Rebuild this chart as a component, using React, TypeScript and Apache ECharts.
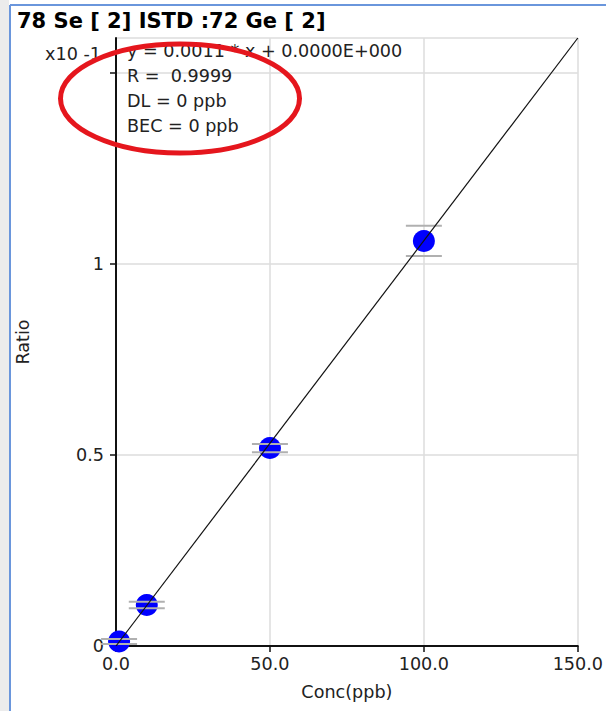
import React, { useEffect, useRef } from "react";
import * as echarts from "echarts";

const conc = [1, 10, 50, 100];
const ratio = [0.012, 0.107, 0.518, 1.059];
const errLow = [0.005, 0.099, 0.507, 1.02];
const errHigh = [0.018, 0.116, 0.528, 1.099];
const fitX = [0, 150];
const fitY = [0, 1.59];
const xTicks = [0, 50, 100, 150];
const yLabeled = [0, 0.5, 1];
const title = "78 Se [ 2] ISTD :72 Ge [ 2]";
const infoLines = ["y = 0.0011 * x + 0.0000E+000", "R =  0.9999", "DL = 0 ppb", "BEC = 0 ppb"];
const yUnit = "x10 -1";

const FONT = "DejaVu Sans";
const FS = 17.6;

export default function App() {
  const ref = useRef<HTMLDivElement>(null);
  useEffect(() => {
    if (!ref.current) return;
    const chart = echarts.init(ref.current, null, { renderer: "svg" });
    const points = conc.map((c, i) => [c, ratio[i]]);
    const errs = conc.map((c, i) => [c, errLow[i], errHigh[i]]);
    const fit = fitX.map((x, i) => [x, fitY[i]]);
    chart.setOption({
      animation: false,
      backgroundColor: "#ffffff",
      textStyle: { fontFamily: FONT },
      grid: { left: 116, right: 24, top: 38, bottom: 65, containLabel: false },
      xAxis: {
        type: "value",
        min: 0,
        max: 150,
        interval: 50,
        name: "Conc(ppb)",
        nameLocation: "middle",
        nameGap: 37,
        nameTextStyle: { fontFamily: FONT, fontSize: FS, color: "#222" },
        axisLine: { onZero: false, lineStyle: { color: "#111", width: 2 } },
        axisTick: { show: true, length: 6, lineStyle: { color: "#111", width: 1.5 } },
        axisLabel: {
          margin: 9,
          fontFamily: FONT,
          fontSize: FS,
          color: "#222",
          formatter: (v: number) => (xTicks.includes(v) ? v.toFixed(1) : ""),
        },
        splitLine: { show: true, lineStyle: { color: "#dcdcdc", width: 1.5 } },
      },
      yAxis: {
        type: "value",
        min: 0,
        max: 1.59,
        interval: 0.5,
        name: "Ratio",
        nameLocation: "middle",
        nameGap: 84,
        nameRotate: 90,
        nameTextStyle: { fontFamily: FONT, fontSize: FS, color: "#222" },
        axisLine: { onZero: false, lineStyle: { color: "#111", width: 2 } },
        axisTick: { show: true, length: 6, lineStyle: { color: "#111", width: 1.5 } },
        axisLabel: {
          margin: 12,
          fontFamily: FONT,
          fontSize: FS,
          color: "#222",
          showMaxLabel: false,
          formatter: (v: number) => (yLabeled.includes(v) ? String(v) : ""),
        },
        splitLine: { show: true, lineStyle: { color: "#dcdcdc", width: 1.5 } },
      },
      series: [
        {
          type: "scatter",
          data: points,
          symbol: "circle",
          symbolSize: 22,
          itemStyle: { color: "#0000ff", opacity: 1 },
          z: 2,
        },
        {
          type: "custom",
          data: errs,
          z: 3,
          renderItem: (params: any, api: any) => {
            const x = api.value(0);
            const lo = api.coord([x, api.value(1)]);
            const hi = api.coord([x, api.value(2)]);
            const hw = 18;
            const style = { stroke: "#b0b0b0", lineWidth: 2 };
            return {
              type: "group",
              children: [
                { type: "line", shape: { x1: lo[0] - hw, y1: lo[1], x2: lo[0] + hw, y2: lo[1] }, style },
                { type: "line", shape: { x1: hi[0] - hw, y1: hi[1], x2: hi[0] + hw, y2: hi[1] }, style },
              ],
            };
          },
        },
        {
          type: "line",
          data: fit,
          showSymbol: false,
          lineStyle: { color: "#111", width: 1.2 },
          z: 4,
        },
      ],
      graphic: [
        { type: "rect", shape: { x: 0, y: 0, width: 9, height: 711 }, style: { fill: "#ececec" }, z: 10 },
        { type: "line", shape: { x1: 10, y1: 5, x2: 10, y2: 711 }, style: { stroke: "#6a96dc", lineWidth: 2 }, z: 10 },
        { type: "line", shape: { x1: 10, y1: 5, x2: 606, y2: 5 }, style: { stroke: "#6a96dc", lineWidth: 2 }, z: 10 },
        {
          type: "text",
          x: 17,
          y: 21,
          style: { text: title, fontFamily: FONT, fontSize: 21, fontWeight: "bold", fill: "#000", verticalAlign: "middle" },
          z: 10,
        },
        {
          type: "text",
          x: 101,
          y: 54,
          style: { text: yUnit, fontFamily: FONT, fontSize: FS, fill: "#222", align: "right", verticalAlign: "middle" },
          z: 10,
        },
        ...infoLines.map((t, i) => ({
          type: "text",
          x: 127,
          y: 51 + i * 25,
          style: { text: t, fontFamily: FONT, fontSize: FS, fill: "#222", verticalAlign: "middle" },
          z: 10,
        })),
        {
          type: "ellipse",
          shape: { cx: 180, cy: 98.5, rx: 119.5, ry: 54.5 },
          style: { fill: "none", stroke: "#e5161d", lineWidth: 5 },
          z: 20,
        },
      ],
    });
    return () => chart.dispose();
  }, []);
  return (
    <div
      ref={ref}
      style={{ position: "fixed", left: 0, top: 0, width: 606, height: 711, background: "#fff" }}
    />
  );
}
